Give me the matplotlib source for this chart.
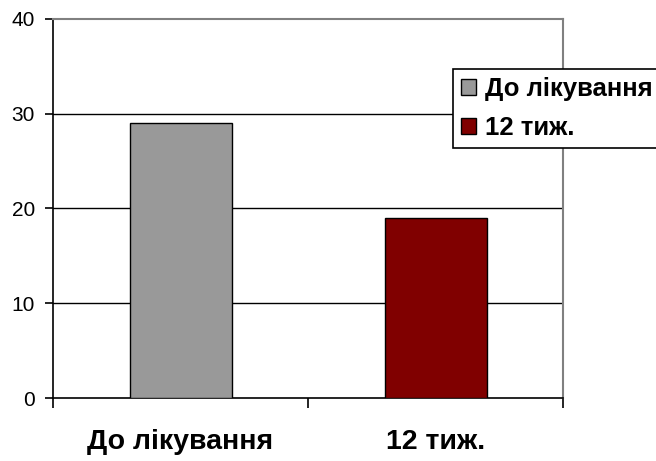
import matplotlib
matplotlib.use("Agg")
import matplotlib.pyplot as plt
from matplotlib.patches import Patch

plt.rcParams['font.family'] = ['Liberation Sans', 'DejaVu Sans']

categories = ["До лікування", "12 тиж."]
values = [29, 19]
colors = ["#999999", "#800000"]
yticks = [0, 10, 20, 30, 40]

W, H = 656, 461
fig = plt.figure(figsize=(W / 100, H / 100), dpi=100)
ax = fig.add_axes([53 / W, (H - 398) / H, (563 - 53) / W, (398 - 19) / H])

x = list(range(len(categories)))
ax.bar(x, values, width=0.4, color=colors, edgecolor="black", linewidth=1, zorder=3)

ax.set_xlim(-0.5, len(categories) - 0.5)
ax.set_ylim(0, 40)
ax.set_yticks(yticks)
ax.tick_params(axis="y", labelsize=15, length=6, width=1.2, direction="out", pad=7)

for y in yticks[1:-1]:
    ax.axhline(y, color="black", linewidth=1, zorder=1)

# category boundaries get tick marks, names sit on minor ticks
ax.set_xticks([i - 0.5 for i in range(len(categories) + 1)])
ax.set_xticklabels([])
ax.tick_params(axis="x", which="major", length=7, width=1.2, direction="out")
ax.set_xticks(x, minor=True)
ax.set_xticklabels(categories, minor=True, fontsize=20.5, fontweight="bold")
ax.tick_params(axis="x", which="minor", length=0, pad=22)

ax.spines["left"].set_color("black")
ax.spines["bottom"].set_color("black")
ax.spines["left"].set_linewidth(1.2)
ax.spines["bottom"].set_linewidth(1.2)
ax.spines["top"].set_color("#808080")
ax.spines["right"].set_color("#808080")
ax.spines["top"].set_linewidth(1.5)
ax.spines["right"].set_linewidth(1.5)

handles = [Patch(facecolor=c, edgecolor="black", linewidth=1) for c in colors]
leg = fig.legend(handles, categories, loc="upper left",
                 bbox_to_anchor=(453 / W, 1 - 69 / H),
                 prop={"weight": "bold", "size": 18.5},
                 handlelength=0.58, handleheight=0.58, handletextpad=0.35,
                 borderpad=0.3, labelspacing=0.6, borderaxespad=0,
                 fancybox=False, framealpha=1, edgecolor="black")
leg.get_frame().set_linewidth(1.2)

fig.savefig("out.png", dpi=100)
